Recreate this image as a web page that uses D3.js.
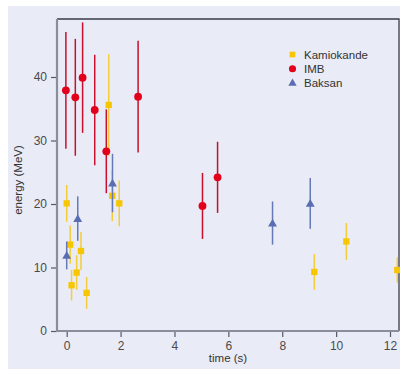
<!DOCTYPE html>
<html><head><meta charset="utf-8">
<script src="https://cdn.jsdelivr.net/npm/d3@7"></script>
<style>body{margin:0;background:#fff}svg{display:block}</style>
</head><body>
<svg id="c" width="400" height="369"></svg>
<script>
// Data
const kamT = [0, 0.13, 0.18, 0.37, 0.53, 0.74, 1.56, 1.69, 1.95, 9.19, 10.38, 12.27];
const kamE = [20.1, 13.6, 7.2, 9.2, 12.6, 6.0, 35.6, 21.3, 20.1, 9.3, 14.1, 9.6];
const kamErr = [2.9, 3.0, 2.4, 2.7, 3.0, 2.5, 8.0, 4.0, 3.6, 2.8, 2.9, 2.0];
const imbT = [-0.03, 0.32, 0.59, 1.04, 1.47, 2.65, 5.04, 5.6];
const imbE = [37.9, 36.8, 39.9, 34.8, 28.3, 36.9, 19.7, 24.2];
const imbErr = [9.2, 9.2, 8.7, 8.7, 6.6, 8.8, 5.2, 5.6];
const bakT = [0, 0.41, 1.7, 7.64, 9.04];
const bakE = [11.9, 17.7, 23.3, 17.0, 20.1];
const bakErr = [2.2, 3.5, 4.6, 3.4, 4.0];
const xTicks = [0, 2, 4, 6, 8, 10, 12];
const yTicks = [0, 10, 20, 30, 40];
const legendNames = ["Kamiokande", "IMB", "Baksan"];

const colors = {kam: "#f7c600", imb: "#e2001a", bak: "#5a6db0"};
const barColors = {kam: "#f3cd3a", imb: "#c8102e", bak: "#6479b6"};

const svg = d3.select("#c");
svg.append("rect").attr("x", 8).attr("y", 6).attr("width", 392).attr("height", 363).attr("fill", "#e9ebf6");

const L = 57, R = 399, T = 19, B = 331;
const x = d3.scaleLinear().domain([0, 12]).range([66.7, 390]);
const y = d3.scaleLinear().domain([0, 40]).range([331, 77]);

const font = "Liberation Sans, Arial, sans-serif";

// frame top/right
svg.append("path").attr("d", `M${L},${T}H${R}V${B}`).attr("fill", "none").attr("stroke", "#3a3d4a").attr("stroke-width", 1.3);

svg.append("clipPath").attr("id", "clp").append("rect").attr("x", L).attr("y", T).attr("width", R - L + 2).attr("height", B - T);
const g = svg.append("g").attr("clip-path", "url(#clp)");

const symSize = {kam: 40, imb: 48, bak: 34};
function series(T_, E_, Er, key, shape) {
  const data = T_.map((t, i) => ({t, e: E_[i], er: Er[i]}));
  g.selectAll(null).data(data).enter().append("line")
    .attr("x1", d => x(d.t)).attr("x2", d => x(d.t))
    .attr("y1", d => y(d.e + d.er)).attr("y2", d => y(d.e - d.er))
    .attr("stroke", barColors[key]).attr("stroke-width", 1.5);
  const sym = d3.symbol().type(shape).size(symSize[key]);
  g.selectAll(null).data(data).enter().append("path")
    .attr("d", sym)
    .attr("transform", d => `translate(${x(d.t)},${y(d.e) + (key === "bak" ? 0.8 : 0)})`)
    .attr("fill", colors[key]);
}
series(kamT, kamE, kamErr, "kam", d3.symbolSquare);
series(bakT, bakE, bakErr, "bak", d3.symbolTriangle);
series(imbT, imbE, imbErr, "imb", d3.symbolCircle);

// axes
const xa = svg.append("g").attr("transform", `translate(0,${B})`)
  .call(d3.axisBottom(x).tickValues(xTicks).tickSize(6).tickPadding(4).tickFormat(d3.format("d")));
xa.select(".domain").remove();
const ya = svg.append("g").attr("transform", `translate(${L},0)`)
  .call(d3.axisLeft(y).tickValues(yTicks).tickSize(6).tickPadding(4).tickFormat(d3.format("d")));
ya.select(".domain").remove();
[xa, ya].forEach(a => {
  a.selectAll("line").attr("stroke", "#555a66").attr("stroke-width", 1.2);
  a.selectAll("text").attr("fill", "#4a4a4a").style("font-family", font).style("font-size", "12px");
});
// left/bottom axis lines (gray, thick)
svg.append("path").attr("d", `M${L},${T}V${B}H${R}`).attr("fill", "none").attr("stroke", "#8a8e9c").attr("stroke-width", 2.2);

svg.append("text").attr("x", 228).attr("y", 362).attr("text-anchor", "middle")
  .style("font-family", font).style("font-size", "11.5px").attr("fill", "#333").text("time (s)");
svg.append("text").attr("transform", "translate(22,180) rotate(-90)").attr("text-anchor", "middle")
  .style("font-family", font).style("font-size", "11.5px").attr("fill", "#333").text("energy (MeV)");

// legend
const lg = svg.append("g");
const legKeys = ["kam", "imb", "bak"];
const legShapes = [d3.symbolSquare, d3.symbolCircle, d3.symbolTriangle];
const legSizes = [32, 40, 30];
legendNames.forEach((n, i) => {
  const yy = 54.5 + i * 14.2;
  lg.append("path").attr("d", d3.symbol().type(legShapes[i]).size(legSizes[i])())
    .attr("transform", `translate(292.5,${yy + (i === 2 ? 0.5 : 0)})`).attr("fill", colors[legKeys[i]]);
  lg.append("text").attr("x", 304).attr("y", yy + 4).style("font-family", font).style("font-size", "11.5px")
    .attr("fill", "#333").text(n);
});
</script>
</body></html>
